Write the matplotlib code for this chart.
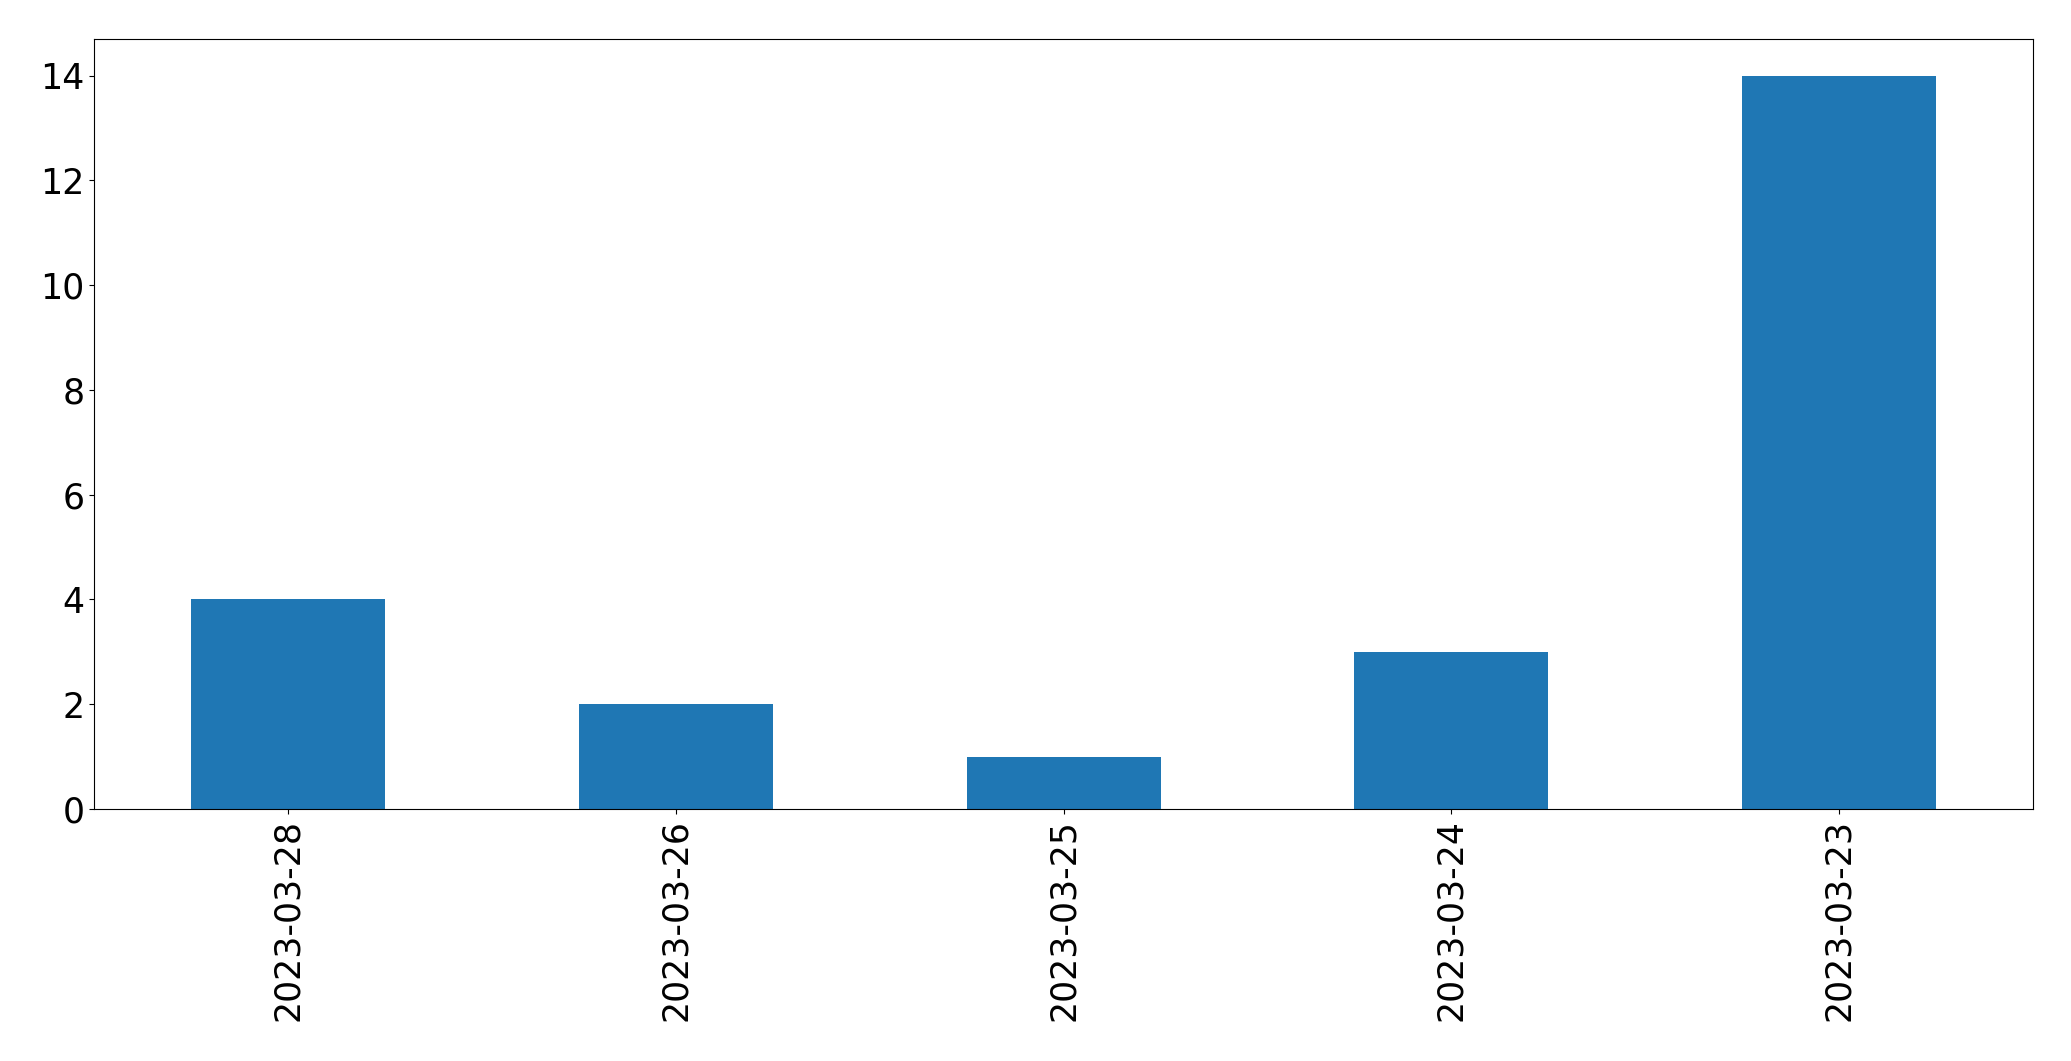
import matplotlib
matplotlib.use('Agg')
import matplotlib.pyplot as plt
import pandas as pd

# counts per day
dates = ['2023-03-28', '2023-03-26', '2023-03-25', '2023-03-24', '2023-03-23']
counts = [4, 2, 1, 3, 14]

s = pd.Series(counts, index=dates)

plt.rcParams['font.size'] = 25

fig = plt.figure(figsize=(20.71, 10.61), dpi=100)
ax = fig.add_subplot(111)
s.plot(kind='bar', ax=ax, color='#1f77b4')
ax.tick_params(axis='both', labelsize=25)
fig.subplots_adjust(left=0.0454, right=0.9817, top=0.9632, bottom=0.2375)
fig.savefig('out.png', dpi=100)
print('Saving out.png')
